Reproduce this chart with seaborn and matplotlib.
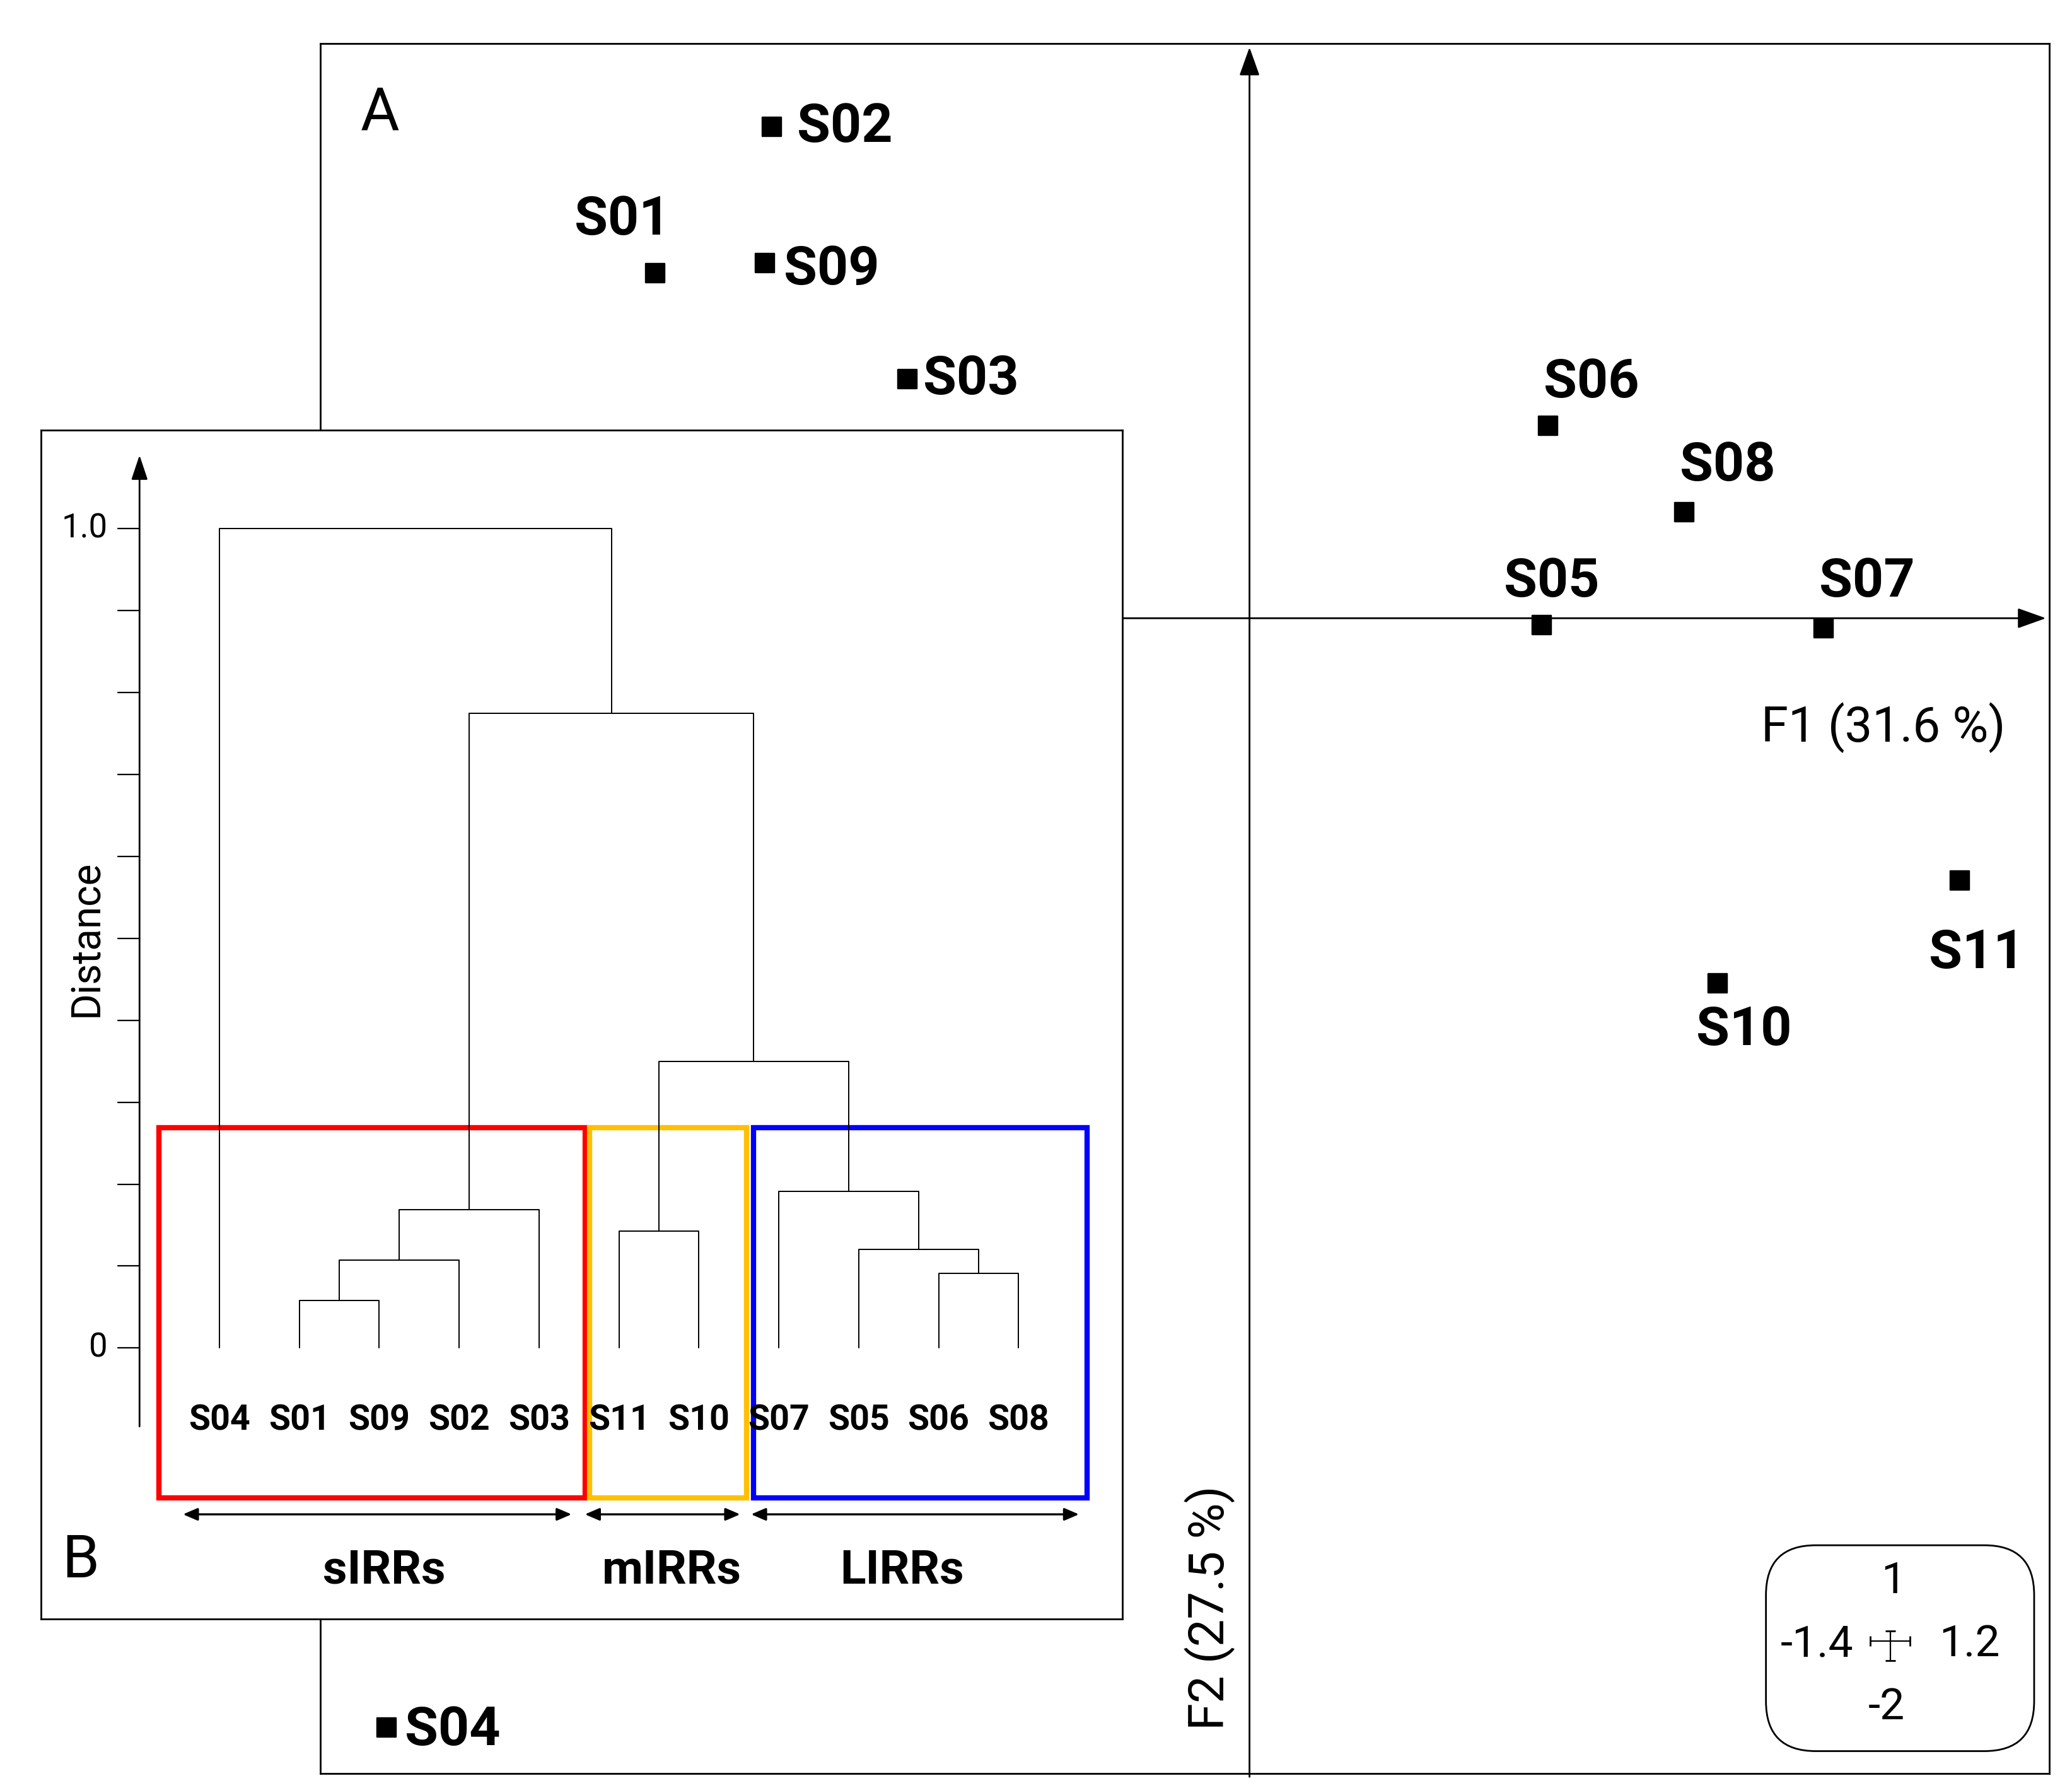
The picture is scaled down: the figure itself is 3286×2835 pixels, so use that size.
import matplotlib
matplotlib.use("Agg")
import matplotlib.pyplot as plt
import seaborn as sns
import pandas as pd
from matplotlib.patches import Rectangle, FancyBboxPatch

sns.set_style("white")
plt.rcParams["font.family"] = ["Liberation Sans Narrow", "Roboto", "DejaVu Sans"]
plt.rcParams["text.color"] = "black"

# PCA scores (panel A)
samples = ["S01", "S02", "S03", "S04", "S05", "S06", "S07", "S08", "S09", "S10", "S11"]
f1 = [-1.79, -1.44, -1.03, -2.60, 0.88, 0.90, 1.73, 1.31, -1.46, 1.41, 2.14]
f2 = [1.04, 1.48, 0.72, -3.34, -0.02, 0.58, -0.03, 0.32, 1.07, -1.10, -0.79]
# label offsets (dx, dy) in data units
lab_dx = [-0.10, 0.22, 0.19, 0.20, 0.03, 0.13, 0.13, 0.13, 0.20, 0.08, 0.05]
lab_dy = [0.16, 0.0, 0.0, -0.01, 0.13, 0.13, 0.14, 0.14, -0.02, -0.14, -0.22]

# dendrogram (panel B)
leaves = ["S04", "S01", "S09", "S02", "S03", "S11", "S10", "S07", "S05", "S06", "S08"]
# merges: (left node, right node, height); nodes 0..10 are leaves, 11+ are clusters
merges = [
    (1, 2, 0.058),    # 11
    (11, 3, 0.107),   # 12
    (12, 4, 0.169),   # 13
    (5, 6, 0.143),    # 14
    (9, 10, 0.091),   # 15
    (8, 15, 0.120),   # 16
    (7, 16, 0.191),   # 17
    (14, 17, 0.350),  # 18
    (13, 18, 0.775),  # 19
    (0, 19, 1.000),   # 20
]
groups = ["sIRRs", "mIRRs", "LIRRs"]
group_colors = ["#ff0000", "#ffc000", "#0000ff"]
group_spans = [(-0.76, 4.58), (4.63, 6.60), (6.68, 10.86)]
arrow_spans = [(-0.50, 4.45), (4.53, 6.56), (6.61, 10.80)]
group_label_x = [2.06, 5.66, 8.54]

fig = plt.figure(figsize=(16.43, 14.175), dpi=200)

# ---------- panel A ----------
ax = fig.add_axes([0.1545, 0.008, 0.8346, 0.9675])
df = pd.DataFrame({"F1": f1, "F2": f2, "s": samples})
sns.scatterplot(data=df, x="F1", y="F2", marker="s", s=120, color="black",
                edgecolor="black", ax=ax, zorder=3)
for x, y, s, dx, dy in zip(f1, f2, samples, lab_dx, lab_dy):
    ax.text(x + dx, y + dy, s, fontsize=31, fontweight="bold", ha="center", va="center")
ax.set_xlim(-2.8, 2.41)
ax.set_ylim(-3.48, 1.73)
ax.annotate("", xy=(2.41, 0), xytext=(-2.8, 0),
            arrowprops=dict(arrowstyle="-|>,head_length=1.4,head_width=0.5", lw=1, color="black"))
ax.annotate("", xy=(0, 1.73), xytext=(0, -3.5),
            arrowprops=dict(arrowstyle="-|>,head_length=1.4,head_width=0.5", lw=1, color="black"),
            annotation_clip=False)
ax.text(1.91, -0.33, "F1 (31.6 %)", fontsize=28, ha="center", va="center")
ax.text(-0.12, -2.98, "F2 (27.5 %)", fontsize=28, ha="center", va="center", rotation=90)
ax.text(-2.62, 1.52, "A", fontsize=34, ha="center", va="center")
ax.add_patch(FancyBboxPatch((1.556, -3.412), 0.808, 0.62,
                            boxstyle="round,pad=0,rounding_size=0.15", fc="white", ec="black", lw=1))
ax.text(1.94, -2.90, "1", fontsize=25, ha="center", va="center")
ax.text(1.71, -3.09, "-1.4", fontsize=25, ha="center", va="center")
ax.text(2.17, -3.09, "1.2", fontsize=25, ha="center", va="center")
ax.text(1.92, -3.28, "-2", fontsize=25, ha="center", va="center")
ax.errorbar([1.93], [-3.08], xerr=[[0.06], [0.06]], yerr=[[0.06], [0.03]],
            color="black", lw=0.8, capsize=3)
ax.set_xticks([])
ax.set_yticks([])
ax.set_xlabel("")
ax.set_ylabel("")
for sp in ax.spines.values():
    sp.set_linewidth(1)
    sp.set_color("black")

# ---------- panel B ----------
bx = fig.add_axes([0.0199, 0.0944, 0.5218, 0.6649], zorder=5)
bx.set_facecolor("white")
bx.set_xlim(-2.23, 11.30)
bx.set_ylim(-0.331, 1.12)
pos = {i: float(i) for i in range(len(leaves))}
hgt = {i: 0.0 for i in range(len(leaves))}
for k, (a, b, h) in enumerate(merges):
    n = len(leaves) + k
    bx.plot([pos[a], pos[a], pos[b], pos[b]], [hgt[a], h, h, hgt[b]], color="black", lw=0.7)
    pos[n] = (pos[a] + pos[b]) / 2
    hgt[n] = h
for i, lab in enumerate(leaves):
    bx.text(i, -0.089, lab, fontsize=20, fontweight="bold", ha="center", va="center")
for c, (x0, x1), (a0, a1) in zip(group_colors, group_spans, arrow_spans):
    bx.add_patch(Rectangle((x0, -0.183), x1 - x0, 0.452, fill=False, ec=c, lw=3))
    bx.annotate("", xy=(a0, -0.203), xytext=(a1, -0.203),
                arrowprops=dict(arrowstyle="<|-|>,head_length=0.7,head_width=0.3", lw=1.2, color="black"))
for g, gx in zip(groups, group_label_x):
    bx.text(gx, -0.272, g, fontsize=27, fontweight="bold", ha="center", va="center")
# distance axis
bx.annotate("", xy=(-1.0, 1.094), xytext=(-1.0, -0.10),
            arrowprops=dict(arrowstyle="-|>,head_length=1.2,head_width=0.4", lw=1, color="black"))
for t in range(11):
    bx.plot([-1.27, -1.0], [t / 10, t / 10], color="black", lw=0.8)
bx.text(-1.40, 1.0, "1.0", fontsize=19, ha="right", va="center")
bx.text(-1.40, 0.0, "0", fontsize=19, ha="right", va="center")
bx.text(-1.66, 0.5, "Distance", fontsize=23, rotation=90, ha="center", va="center")
bx.text(-1.74, -0.26, "B", fontsize=34, ha="center", va="center")
bx.set_xticks([])
bx.set_yticks([])
for sp in bx.spines.values():
    sp.set_linewidth(1)
    sp.set_color("black")

fig.savefig("out.png", dpi=200, facecolor="white")
